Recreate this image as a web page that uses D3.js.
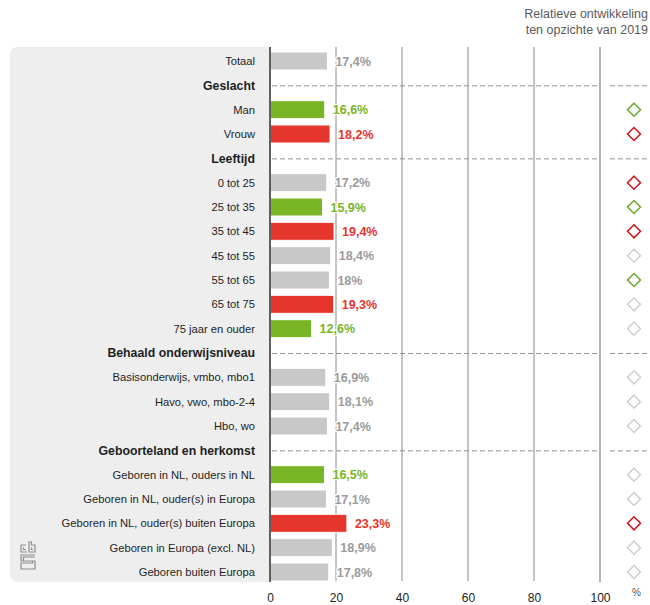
<!DOCTYPE html>
<html>
<head>
<meta charset="utf-8">
<script src="https://cdn.jsdelivr.net/npm/d3@7"></script>
<style>
  body { margin: 0; background: #fff; }
  svg text { font-family: "Liberation Sans", Arial, sans-serif; }
</style>
</head>
<body>
<svg width="650" height="605"></svg>
<script>
// rijen van boven naar onder
const rows = [
  'Totaal',
  'Geslacht', 'Man', 'Vrouw',
  'Leeftijd', '0 tot 25', '25 tot 35', '35 tot 45', '45 tot 55', '55 tot 65', '65 tot 75', '75 jaar en ouder',
  'Behaald onderwijsniveau', 'Basisonderwijs, vmbo, mbo1', 'Havo, vwo, mbo-2-4', 'Hbo, wo',
  'Geboorteland en herkomst', 'Geboren in NL, ouders in NL', 'Geboren in NL, ouder(s) in Europa',
  'Geboren in NL, ouder(s) buiten Europa', 'Geboren in Europa (excl. NL)', 'Geboren buiten Europa'
];
const headers = ['Geslacht', 'Leeftijd', 'Behaald onderwijsniveau', 'Geboorteland en herkomst'];

const values = [
  17.4,
  null, 16.6, 18.2,
  null, 17.2, 15.9, 19.4, 18.4, 18, 19.3, 12.6,
  null, 16.9, 18.1, 17.4,
  null, 16.5, 17.1, 23.3, 18.9, 17.8
];
// kleur van de balk: n = neutraal, g = lager, r = hoger
const barKind = [
  'n',
  null, 'g', 'r',
  null, 'n', 'g', 'r', 'n', 'n', 'r', 'g',
  null, 'n', 'n', 'n',
  null, 'g', 'n', 'r', 'n', 'n'
];
// relatieve ontwikkeling t.o.v. 2019
const trendKind = [
  null,
  null, 'g', 'r',
  null, 'r', 'g', 'r', 'n', 'g', 'n', 'n',
  null, 'n', 'n', 'n',
  null, 'n', 'n', 'r', 'n', 'n'
];
const xTicks = [0, 20, 40, 60, 80, 100];

const barColor = { n: '#c8c8c8', g: '#7ab527', r: '#e5352d' };
const labelColor = { n: '#9b9b9b', g: '#7ab527', r: '#e5352d' };
const trendColor = { n: '#cfcfcf', g: '#6aa82a', r: '#d0121b' };

const svg = d3.select('svg');

const x = d3.scaleLinear().domain([0, 100]).range([270, 600]);
const y = d3.scalePoint().domain(d3.range(rows.length)).range([61, 572]);
const barH = 18;

const fmt = v => (v % 1 === 0 ? String(v) : v.toFixed(1).replace('.', ','));

// titel rechtsboven
const title = svg.append('g').attr('fill', '#5a5a5a').attr('font-size', 12.5).attr('text-anchor', 'end');
title.append('text').attr('x', 648).attr('y', 18).text('Relatieve ontwikkeling');
title.append('text').attr('x', 648).attr('y', 34).text('ten opzichte van 2019');

// grijs label-vlak
svg.append('rect')
  .attr('x', 10).attr('y', 47)
  .attr('width', 266).attr('height', 535)
  .attr('rx', 7)
  .attr('fill', '#eeeeee');
svg.append('rect')
  .attr('x', 269).attr('y', 47)
  .attr('width', 381).attr('height', 540)
  .attr('fill', '#fff');

// rasterlijnen
svg.append('g').selectAll('line').data([20, 40, 60, 80])
  .enter().append('line')
  .attr('x1', d => x(d)).attr('x2', d => x(d))
  .attr('y1', 47).attr('y2', 581)
  .attr('stroke', '#8a8a8a').attr('stroke-width', 1);

svg.append('line')
  .attr('x1', x(100)).attr('x2', x(100))
  .attr('y1', 47).attr('y2', 582)
  .attr('stroke', '#b3b3b3').attr('stroke-width', 2);

// stippellijnen bij de kopjes
const headerIdx = rows.map((r, i) => i).filter(i => headers.includes(rows[i]));
const dash = svg.append('g').attr('stroke', '#8f8f8f').attr('stroke-dasharray', '5,3').attr('stroke-width', 1);
headerIdx.forEach(i => {
  dash.append('line').attr('x1', 272).attr('x2', 598).attr('y1', y(i) + 0.5).attr('y2', y(i) + 0.5);
  dash.append('line').attr('x1', 610).attr('x2', 650).attr('y1', y(i) + 0.5).attr('y2', y(i) + 0.5);
});

// labels links
svg.append('g').selectAll('text').data(rows)
  .enter().append('text')
  .attr('x', 255)
  .attr('y', (d, i) => y(i))
  .attr('dy', '0.35em')
  .attr('text-anchor', 'end')
  .attr('font-size', d => headers.includes(d) ? 12.3 : 11.2)
  .attr('font-weight', d => headers.includes(d) ? 'bold' : 'normal')
  .attr('fill', '#1e1e1e')
  .text(d => d);

// balken
const barIdx = rows.map((r, i) => i).filter(i => values[i] != null);
svg.append('g').selectAll('rect').data(barIdx)
  .enter().append('rect')
  .attr('x', x(0))
  .attr('y', i => y(i) - barH / 2)
  .attr('width', i => x(values[i]) - x(0))
  .attr('height', barH)
  .attr('fill', i => barColor[barKind[i]])
  .attr('stroke', '#fff').attr('stroke-width', 1);

// nul-lijn
svg.append('line')
  .attr('x1', x(0)).attr('x2', x(0))
  .attr('y1', 47).attr('y2', 582)
  .attr('stroke', '#5f5f5f').attr('stroke-width', 2);

// waardelabels
svg.append('g').selectAll('text').data(barIdx)
  .enter().append('text')
  .attr('x', i => x(values[i]) + 8)
  .attr('y', i => y(i))
  .attr('dy', '0.38em')
  .attr('font-size', 12.5)
  .attr('font-weight', 'bold')
  .attr('fill', i => labelColor[barKind[i]])
  .attr('stroke', '#fff').attr('stroke-width', 2.5).attr('paint-order', 'stroke')
  .text(i => fmt(values[i]) + '%');

// ruitjes
const trendIdx = rows.map((r, i) => i).filter(i => trendKind[i] != null);
svg.append('g').selectAll('path').data(trendIdx)
  .enter().append('path')
  .attr('transform', i => `translate(634,${y(i)})`)
  .attr('d', 'M0,-6.5L6.5,0L0,6.5L-6.5,0Z')
  .attr('fill', 'none')
  .attr('stroke', i => trendColor[trendKind[i]])
  .attr('stroke-width', 1.5);

// x-as
const xAxis = svg.append('g')
  .attr('transform', 'translate(0,590)')
  .call(d3.axisBottom(x).tickValues(xTicks).tickSize(0).tickPadding(3));
xAxis.select('.domain').remove();
xAxis.selectAll('text')
  .attr('font-size', 12)
  .attr('fill', '#222')
  .style('font-family', '"Liberation Sans", Arial, sans-serif');

svg.append('text')
  .attr('x', 632).attr('y', 596)
  .attr('font-size', 10)
  .attr('fill', '#555')
  .text('%');

// cbs-logo
const logo = svg.append('g')
  .attr('transform', 'translate(20,541)')
  .attr('fill', 'none')
  .attr('stroke', '#8c8c8c')
  .attr('stroke-width', 1.2);
logo.append('path').attr('d', 'M1,4V11H7M1,4H6M3.5,6.5V8.5H6');
logo.append('path').attr('d', 'M9,1V11H15V4H11.5V1Z M11.5,6.5V8.5H13');
logo.append('path').attr('d', 'M15,14H1V20H12.5V22H1V28H15V22V20H3.5V16H15');
</script>
</body>
</html>
